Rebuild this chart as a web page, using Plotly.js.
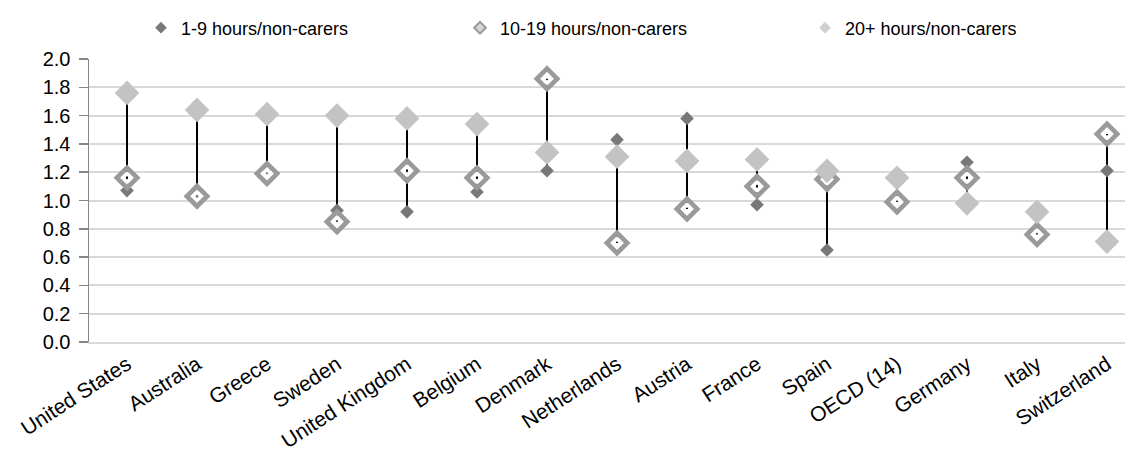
<!DOCTYPE html>
<html>
<head>
<meta charset="utf-8">
<script src="https://cdn.plot.ly/plotly-3.0.1.min.js"></script>
<style>html,body{margin:0;padding:0;background:#fff;}#chart{width:1125px;height:455px;}</style>
</head>
<body>
<div id="chart"></div>
<script>
const categories = ['United States','Australia','Greece','Sweden','United Kingdom','Belgium','Denmark','Netherlands','Austria','France','Spain','OECD (14)','Germany','Italy','Switzerland'];
const hours1to9   = [1.07,1.02,1.23,0.93,0.92,1.06,1.21,1.43,1.58,0.97,0.65,null,1.27,null,1.21];
const hours10to19 = [1.16,1.03,1.19,0.85,1.21,1.16,1.86,0.70,0.94,1.10,1.15,0.99,1.16,0.76,1.47];
const hours20plus = [1.76,1.64,1.61,1.60,1.58,1.54,1.34,1.31,1.28,1.29,1.21,1.16,0.98,0.92,0.71];
const seriesNames = ['1-9 hours/non-carers','10-19 hours/non-carers','20+ hours/non-carers'];

const cDark = '#787878', cMid = '#9a9a9a', cLight = '#c3c3c3';
const FONT = 'Liberation Sans, Arial, sans-serif';

// high-low lines built from the data
const hlX = [], hlY = [];
categories.forEach((c, i) => {
  const v = [hours1to9[i], hours10to19[i], hours20plus[i]].filter(d => d !== null && d !== undefined);
  hlX.push(c, c, null);
  hlY.push(Math.min(...v), Math.max(...v), null);
});

const traces = [
  {x: hlX, y: hlY, mode: 'lines', line: {color: '#000', width: 2}, showlegend: false, hoverinfo: 'skip'},
  {x: categories, y: hours1to9, mode: 'markers', showlegend: false,
   marker: {symbol: 'diamond', size: 10.5, color: cDark, line: {width: 0}}},
  {x: categories, y: hours10to19, mode: 'markers', showlegend: false,
   marker: {symbol: 'diamond-open', size: 15.5, color: cMid, line: {color: cMid, width: 4.8}}},
  {x: categories, y: hours10to19, mode: 'markers', showlegend: false,
   marker: {symbol: 'diamond-open', size: 6.5, color: '#fff', line: {color: '#fff', width: 3.5}}},
  {x: categories, y: hours20plus, mode: 'markers', showlegend: false,
   marker: {symbol: 'diamond', size: 19, color: cLight, line: {width: 0}}},
  // legend entries
  {x: [null], y: [null], mode: 'markers', name: seriesNames[0], legend: 'legend',
   marker: {symbol: 'diamond', size: 9, color: cDark, line: {width: 0}}},
  {x: [null], y: [null], mode: 'markers', name: seriesNames[1], legend: 'legend2',
   marker: {symbol: 'diamond', size: 9, color: '#d6d6d6', line: {color: cMid, width: 2}}},
  {x: [null], y: [null], mode: 'markers', name: seriesNames[2], legend: 'legend3',
   marker: {symbol: 'diamond', size: 9, color: '#d0d0d0', line: {width: 0}}}
];

const legBase = {xref: 'container', yref: 'container', y: 1 - 28/455, yanchor: 'middle', xanchor: 'left',
  orientation: 'h', font: {family: FONT, size: 18, color: '#000'}, bgcolor: 'rgba(0,0,0,0)', itemwidth: 30};

const layout = {
  width: 1125, height: 455,
  margin: {l: 89, r: 0, t: 59, b: 113, pad: 0},
  paper_bgcolor: '#fff', plot_bgcolor: '#fff',
  font: {family: FONT, size: 20, color: '#000'},
  showlegend: true,
  legend: Object.assign({}, legBase, {x: 141/1125}),
  legend2: Object.assign({}, legBase, {x: 460/1125}),
  legend3: Object.assign({}, legBase, {x: 805/1125}),
  xaxis: {type: 'category', range: [-0.543, 14.257], tickangle: -33, showgrid: false,
    showline: true, linecolor: '#d9d9d9', linewidth: 2, ticks: '', tickfont: {size: 21}, zeroline: false},
  yaxis: {range: [0, 2], dtick: 0.2, tick0: 0, tickformat: '.1f', showgrid: true, gridcolor: '#d9d9d9', gridwidth: 2,
    showline: true, linecolor: '#868686', linewidth: 1.5, ticks: 'outside', ticklen: 9, tickwidth: 1.5,
    tickcolor: '#868686', tickfont: {size: 20}, zeroline: false, ticklabelstandoff: 4}
};

Plotly.newPlot('chart', traces, layout, {staticPlot: true, displayModeBar: false});
</script>
</body>
</html>
